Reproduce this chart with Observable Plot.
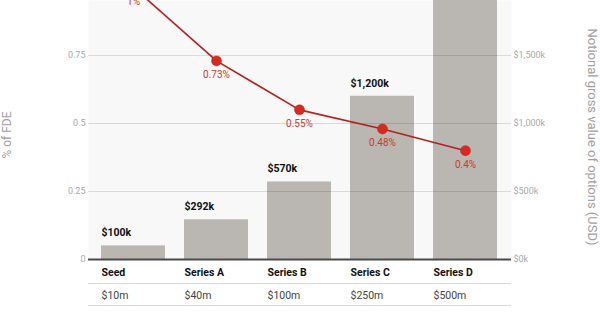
<!DOCTYPE html>
<html><head><meta charset="utf-8">
<script src="https://cdn.jsdelivr.net/npm/d3@7"></script>
<script src="https://cdn.jsdelivr.net/npm/@observablehq/plot@0.6"></script>
<style>body{margin:0;background:#fff}#chart svg{display:block}</style>
</head><body><div id="chart"></div>
<script>
const rounds = ["Seed", "Series A", "Series B", "Series C", "Series D"];
const optionValueK = [100, 292, 570, 1200, 2000];
const optionLabels = ["$100k", "$292k", "$570k", "$1,200k", "$2,000k"];
const fdePct = [1, 0.73, 0.55, 0.48, 0.4];
const fdeLabels = ["1%", "0.73%", "0.55%", "0.48%", "0.4%"];
const valuations = ["$10m", "$40m", "$100m", "$250m", "$500m"];
const leftTicks = [0, 0.25, 0.5, 0.75];
const rightTicksK = [0, 500, 1000, 1500];
const kPerPct = 2000; // right axis: $2,000k aligns with 1% on the left axis
const yTop = 0.952;   // the reference is cropped just below the 1% line

const data = rounds.map((r, i) => ({
  round: r, valueK: optionValueK[i], valueLabel: optionLabels[i],
  pct: fdePct[i], pctLabel: fdeLabels[i], valuation: valuations[i]
}));

const font = "Roboto, 'Liberation Sans', sans-serif";
const red = "#d42a22";
const half = 32;

const chart = Plot.plot({
  width: 600, height: 323,
  marginTop: 0, marginBottom: 64, marginLeft: 88, marginRight: 89,
  style: {fontFamily: font, background: "#fff", overflow: "hidden"},
  x: {domain: rounds, paddingInner: 0.226, paddingOuter: 0.143, axis: null},
  y: {domain: [0, yTop], axis: null},
  marks: [
    Plot.frame({fill: "#f8f8f8", stroke: null}),
    Plot.barY(data, {x: "round", y: d => d.valueK / kPerPct, fill: "#bab6b2"}),
    Plot.gridY(leftTicks.filter(d => d > 0), {stroke: "#000", strokeOpacity: 0.12, strokeWidth: 1}),
    Plot.ruleY([0], {stroke: "#4a4a4a", strokeWidth: 2}),
    Plot.ruleY([0], {stroke: "#d8d8d8", dy: 24}),
    Plot.ruleY([0], {stroke: "#d8d8d8", dy: 46}),
    Plot.axisY(leftTicks, {anchor: "left", tickSize: 0, tickPadding: 3, tickFormat: d => String(d),
      fill: "#a8a8a8", fontSize: 9, label: null}),
    Plot.axisY(rightTicksK.map(v => v / kPerPct), {anchor: "right", tickSize: 0, tickPadding: 2,
      tickFormat: d => "$" + d3.format(",")(Math.round(d * kPerPct)) + "k",
      fill: "#a8a8a8", fontSize: 9, label: null}),
    Plot.text(data.filter(d => d.valueK / kPerPct < yTop * 0.9), {x: "round", y: d => d.valueK / kPerPct,
      text: "valueLabel", dx: -half, dy: -13,
      textAnchor: "start", fontWeight: "bold", fontSize: 10.5, fill: "#111"}),
    Plot.text(data, {x: "round", y: 0, text: "round", dx: -half, dy: 13,
      textAnchor: "start", fontWeight: "bold", fontSize: 10.5, fill: "#111"}),
    Plot.text(data, {x: "round", y: 0, text: "valuation", dx: -half, dy: 36,
      textAnchor: "start", fontSize: 10.5, fill: "#444"}),
    Plot.line(data, {x: "round", y: "pct", stroke: "#b3211c", strokeWidth: 1.6}),
    Plot.dot(data, {x: "round", y: "pct", r: 5, fill: red, stroke: "#c0221c", strokeWidth: 0.5}),
    Plot.text(data, {x: "round", y: "pct", text: "pctLabel", dy: 14, fill: "#c93a30", fontSize: 10}),
    Plot.text(["% of FDE"], {frameAnchor: "left", textAnchor: "middle", rotate: -90, dx: -81, dy: 5,
      fill: "#a0a0a0", fontSize: 12}),
    Plot.text(["Notional gross value of options (USD)"], {frameAnchor: "right", textAnchor: "middle",
      rotate: 90, dx: 81, dy: 7, fill: "#a0a0a0", fontSize: 13})
  ]
});
document.getElementById("chart").appendChild(chart);
</script>
</body></html>
